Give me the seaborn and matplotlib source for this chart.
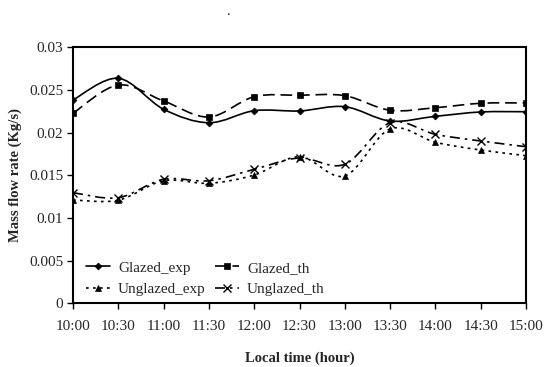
import numpy as np
import pandas as pd
import matplotlib
matplotlib.use("Agg")
import matplotlib.pyplot as plt
import seaborn as sns
from matplotlib.path import Path
from matplotlib.patches import PathPatch
from matplotlib.lines import Line2D

times = ["10:00", "10:30", "11:00", "11:30", "12:00", "12:30",
         "13:00", "13:30", "14:00", "14:30", "15:00"]
glazed_exp = [0.02385, 0.02639, 0.02276, 0.02118, 0.02259, 0.02256,
              0.02306, 0.02138, 0.02193, 0.02244, 0.02247]
glazed_th = [0.02229, 0.02560, 0.02373, 0.02185, 0.02423, 0.02440,
             0.02435, 0.02264, 0.02294, 0.02346, 0.02350]
unglazed_exp = [0.01212, 0.01210, 0.01438, 0.01408, 0.01505, 0.01720,
                0.01494, 0.02046, 0.01889, 0.01798, 0.01732]
unglazed_th = [0.01298, 0.01239, 0.01455, 0.01438, 0.01572, 0.01705,
               0.01631, 0.02118, 0.01982, 0.01904, 0.01837]
series_names = ["Glazed_exp", "Glazed_th", "Unglazed_exp", "Unglazed_th"]

sns.set_style("white")
plt.rcParams["font.family"] = ["Liberation Serif", "DejaVu Serif"]

fig = plt.figure(figsize=(5.5, 3.67), dpi=100)
ax = fig.add_axes([0.1327, 0.1733, 0.9564 - 0.1327, 0.8706 - 0.1733])

df = pd.DataFrame({
    "time": times * 4,
    "value": glazed_exp + glazed_th + unglazed_exp + unglazed_th,
    "series": sum([[n] * len(times) for n in series_names], []),
})

styles = {
    "Glazed_exp": dict(marker="D", ms=3.5, dashes=None),
    "Glazed_th": dict(marker="s", ms=5, dashes=(7, 3.5)),
    "Unglazed_exp": dict(marker="^", ms=5, dashes=(1.6, 2.6)),
    "Unglazed_th": dict(marker="x", ms=5.5, dashes=(6, 3, 1.5, 3)),
}


def smooth_path(xs, ys):
    pts = np.column_stack([xs, ys])
    n = len(pts)
    verts = [pts[0]]
    codes = [Path.MOVETO]
    for i in range(n - 1):
        p0 = pts[i - 1] if i > 0 else pts[i]
        p1 = pts[i]
        p2 = pts[i + 1]
        p3 = pts[i + 2] if i + 2 < n else pts[i + 1]
        c1 = p1 + (p2 - p0) / 6.0
        c2 = p2 - (p3 - p1) / 6.0
        verts += [c1, c2, p2]
        codes += [Path.CURVE4] * 3
    return Path(verts, codes)


# markers via seaborn
for name in series_names:
    st = styles[name]
    sub = df[df["series"] == name]
    sns.lineplot(data=sub, x="time", y="value", ax=ax, color="black",
                 marker=st["marker"], markersize=st["ms"], linestyle="",
                 markeredgewidth=1.0 if st["marker"] == "x" else 0.5,
                 markeredgecolor="black", sort=False, legend=False)

# smoothed lines
xpos = np.arange(len(times))
for name, vals in zip(series_names, [glazed_exp, glazed_th, unglazed_exp, unglazed_th]):
    st = styles[name]
    path = smooth_path(xpos, np.array(vals))
    patch = PathPatch(path, fill=False, edgecolor="black", lw=1.2)
    if st["dashes"] is not None:
        patch.set_linestyle((0, st["dashes"]))
    ax.add_patch(patch)

ax.set_xlim(0, len(times) - 1)
ax.set_ylim(0, 0.03)
ax.set_yticks([0, 0.005, 0.01, 0.015, 0.02, 0.025, 0.03])
ax.set_yticklabels(["0", "0.005", "0.01", "0.015", "0.02", "0.025", "0.03"])
ax.set_xticks(xpos)
ax.set_xticklabels(times)
ax.tick_params(axis="both", direction="out", length=4, width=1,
               labelsize=11, color="black", pad=3, bottom=True, left=True)
ax.tick_params(axis="x", pad=8)
for sp in ax.spines.values():
    sp.set_visible(True)
    sp.set_color("black")
    sp.set_linewidth(1.5)

ax.set_xlabel("Local time (hour)", fontsize=10.5, fontweight="bold", labelpad=13)
ax.set_ylabel("Mass flow rate (Kg/s)", fontsize=10.5, fontweight="bold", labelpad=5)

handles = {}
for name in series_names:
    st = styles[name]
    h = Line2D([], [], color="black", lw=1.2, marker=st["marker"],
               markersize=st["ms"], markeredgewidth=1.0 if st["marker"] == "x" else 0.5)
    if st["dashes"] is not None:
        h.set_dashes(st["dashes"])
    handles[name] = h
order = ["Glazed_exp", "Unglazed_exp", "Glazed_th", "Unglazed_th"]
ax.legend([handles[n] for n in order], order, ncol=2, loc="lower left",
          frameon=False, fontsize=11, handlelength=1.6, handletextpad=0.5,
          columnspacing=0.6, labelspacing=0.5, bbox_to_anchor=(-0.002, -0.025))

fig.text(229 / 550, 1 - 11.7 / 367, ".", ha="center", va="center", fontsize=10.5)

fig.savefig("out.png", dpi=100)
